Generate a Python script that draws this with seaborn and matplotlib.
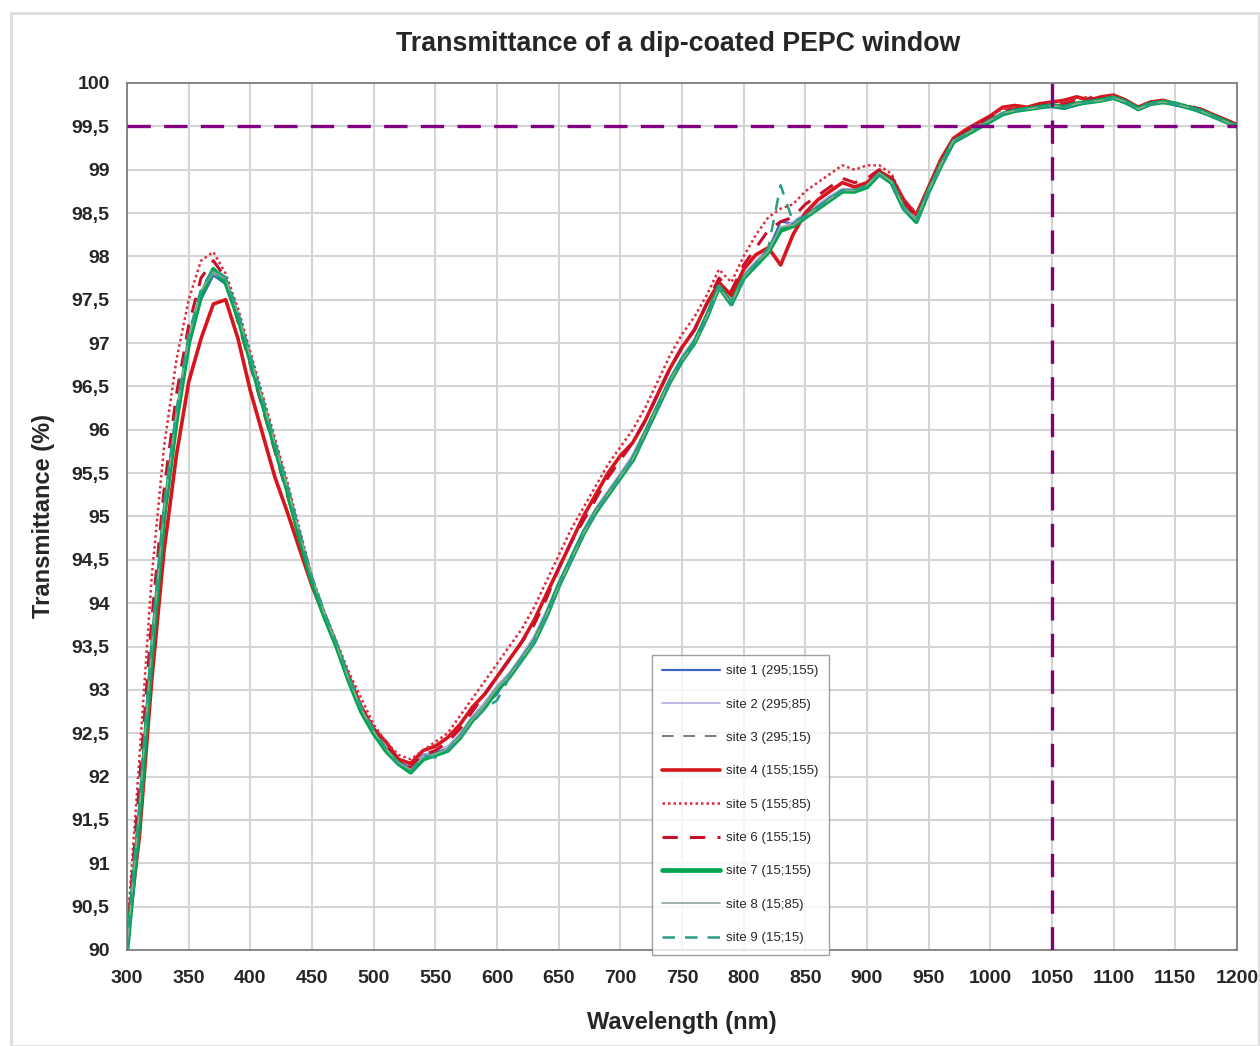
import numpy as np
import pandas as pd
import matplotlib
matplotlib.use("Agg")
import matplotlib.pyplot as plt
from matplotlib.ticker import MultipleLocator, FuncFormatter
from matplotlib.patches import Rectangle
import seaborn as sns

wavelength = list(range(300, 1201, 10))

site1 = [90.00, 91.60, 93.50, 95.05, 96.15, 97.00, 97.50, 97.78, 97.68, 97.30,
         96.82, 96.32, 95.82, 95.32, 94.78, 94.28, 93.88, 93.52, 93.12, 92.78,
         92.52, 92.32, 92.18, 92.10, 92.25, 92.28, 92.32, 92.48, 92.66, 92.82,
         92.95, 93.18, 93.38, 93.58, 93.88, 94.22, 94.52, 94.82, 95.06, 95.28,
         95.48, 95.68, 95.98, 96.28, 96.58, 96.82, 97.02, 97.32, 97.66, 97.48,
         97.78, 97.92, 98.08, 98.40, 98.38, 98.48, 98.58, 98.68, 98.76, 98.76,
         98.82, 98.94, 98.86, 98.56, 98.42, 98.76, 99.06, 99.32, 99.40, 99.49,
         99.57, 99.65, 99.68, 99.70, 99.72, 99.72, 99.70, 99.74, 99.78, 99.80,
         99.82, 99.76, 99.70, 99.76, 99.78, 99.74, 99.72, 99.66, 99.62, 99.56, 99.50]
site2 = [90.05, 91.70, 93.55, 95.10, 96.20, 97.05, 97.55, 97.80, 97.72, 97.34,
         96.85, 96.35, 95.85, 95.35, 94.80, 94.30, 93.90, 93.55, 93.15, 92.80,
         92.55, 92.34, 92.20, 92.12, 92.24, 92.30, 92.35, 92.50, 92.70, 92.86,
         93.05, 93.20, 93.40, 93.62, 93.92, 94.25, 94.55, 94.85, 95.10, 95.30,
         95.50, 95.72, 96.00, 96.30, 96.60, 96.85, 97.05, 97.35, 97.68, 97.52,
         97.80, 97.95, 98.10, 98.32, 98.40, 98.50, 98.60, 98.70, 98.78, 98.78,
         98.84, 98.96, 98.88, 98.58, 98.44, 98.78, 99.08, 99.34, 99.42, 99.50,
         99.58, 99.66, 99.68, 99.72, 99.74, 99.74, 99.72, 99.76, 99.78, 99.80,
         99.84, 99.78, 99.72, 99.76, 99.80, 99.76, 99.72, 99.68, 99.62, 99.56, 99.50]
site3 = [90.00, 91.55, 93.45, 95.00, 96.12, 97.02, 97.58, 97.84, 97.70, 97.28,
         96.78, 96.28, 95.78, 95.28, 94.74, 94.24, 93.84, 93.48, 93.08, 92.74,
         92.48, 92.28, 92.14, 92.06, 92.22, 92.24, 92.30, 92.46, 92.64, 92.80,
         93.00, 93.14, 93.34, 93.54, 93.84, 94.18, 94.48, 94.78, 95.04, 95.24,
         95.44, 95.64, 95.94, 96.24, 96.54, 96.78, 96.98, 97.28, 97.64, 97.44,
         97.74, 97.88, 98.04, 98.28, 98.34, 98.44, 98.54, 98.64, 98.74, 98.74,
         98.80, 98.94, 98.84, 98.54, 98.40, 98.74, 99.04, 99.30, 99.40, 99.48,
         99.56, 99.64, 99.68, 99.70, 99.72, 99.74, 99.72, 99.76, 99.78, 99.80,
         99.83, 99.78, 99.70, 99.76, 99.78, 99.76, 99.72, 99.68, 99.62, 99.56, 99.50]
site4 = [90.10, 91.30, 93.10, 94.60, 95.70, 96.55, 97.05, 97.45, 97.50, 97.05,
         96.45, 95.95, 95.45, 95.05, 94.62, 94.20, 93.85, 93.50, 93.15, 92.80,
         92.55, 92.40, 92.20, 92.15, 92.30, 92.35, 92.45, 92.60, 92.80, 92.95,
         93.15, 93.35, 93.55, 93.80, 94.10, 94.40, 94.70, 95.00, 95.25, 95.50,
         95.70, 95.85, 96.10, 96.40, 96.70, 96.95, 97.15, 97.45, 97.70, 97.55,
         97.85, 98.02, 98.10, 97.90, 98.25, 98.50, 98.65, 98.75, 98.85, 98.80,
         98.85, 98.98, 98.90, 98.65, 98.48, 98.80, 99.12, 99.36, 99.46, 99.54,
         99.62, 99.72, 99.74, 99.72, 99.76, 99.78, 99.80, 99.84, 99.80, 99.84,
         99.86, 99.80, 99.72, 99.78, 99.80, 99.76, 99.72, 99.70, 99.64, 99.58, 99.52]
site5 = [90.20, 92.20, 94.30, 95.80, 96.80, 97.50, 97.95, 98.05, 97.80, 97.40,
         96.90, 96.40, 95.90, 95.40, 94.85, 94.30, 93.90, 93.55, 93.20, 92.90,
         92.60, 92.40, 92.25, 92.20, 92.30, 92.40, 92.50, 92.70, 92.90, 93.10,
         93.30, 93.50, 93.70, 93.95, 94.25, 94.55, 94.85, 95.10, 95.35, 95.60,
         95.80, 96.00, 96.25, 96.55, 96.85, 97.10, 97.30, 97.55, 97.85, 97.70,
         98.00, 98.25, 98.45, 98.55, 98.60, 98.75, 98.85, 98.95, 99.05, 99.00,
         99.05, 99.05, 98.95, 98.65, 98.50, 98.80, 99.12, 99.36, 99.46, 99.55,
         99.62, 99.70, 99.72, 99.72, 99.74, 99.78, 99.78, 99.82, 99.84, 99.82,
         99.86, 99.80, 99.72, 99.78, 99.80, 99.76, 99.74, 99.70, 99.64, 99.58, 99.52]
site6 = [90.10, 91.90, 93.80, 95.30, 96.40, 97.20, 97.75, 97.95, 97.75, 97.25,
         96.75, 96.25, 95.75, 95.25, 94.75, 94.25, 93.85, 93.50, 93.10, 92.80,
         92.55, 92.35, 92.20, 92.10, 92.25, 92.30, 92.40, 92.55, 92.75, 92.95,
         93.15, 93.35, 93.55, 93.75, 94.05, 94.40, 94.70, 94.95, 95.20, 95.45,
         95.65, 95.85, 96.10, 96.40, 96.70, 96.95, 97.15, 97.45, 97.75, 97.60,
         97.90, 98.10, 98.30, 98.40, 98.45, 98.60, 98.70, 98.80, 98.90, 98.85,
         98.90, 99.00, 98.92, 98.62, 98.46, 98.78, 99.10, 99.34, 99.44, 99.53,
         99.61, 99.68, 99.70, 99.72, 99.74, 99.76, 99.76, 99.80, 99.82, 99.82,
         99.85, 99.80, 99.72, 99.78, 99.78, 99.76, 99.74, 99.70, 99.64, 99.58, 99.52]
site7 = [90.00, 91.50, 93.40, 95.00, 96.10, 97.00, 97.55, 97.85, 97.70, 97.30,
         96.80, 96.30, 95.80, 95.30, 94.75, 94.25, 93.85, 93.50, 93.10, 92.75,
         92.50, 92.30, 92.15, 92.05, 92.20, 92.25, 92.30, 92.45, 92.65, 92.80,
         93.00, 93.15, 93.35, 93.55, 93.85, 94.20, 94.50, 94.80, 95.05, 95.25,
         95.45, 95.65, 95.95, 96.25, 96.55, 96.80, 97.00, 97.30, 97.65, 97.45,
         97.75, 97.90, 98.05, 98.30, 98.35, 98.45, 98.55, 98.65, 98.75, 98.75,
         98.80, 98.95, 98.85, 98.55, 98.40, 98.75, 99.05, 99.32, 99.40, 99.48,
         99.56, 99.64, 99.68, 99.70, 99.72, 99.74, 99.72, 99.76, 99.78, 99.80,
         99.83, 99.78, 99.70, 99.76, 99.78, 99.76, 99.72, 99.68, 99.62, 99.56, 99.50]
site8 = [90.02, 91.62, 93.48, 95.06, 96.18, 97.06, 97.60, 97.82, 97.74, 97.34,
         96.84, 96.34, 95.84, 95.34, 94.80, 94.30, 93.88, 93.52, 93.12, 92.78,
         92.52, 92.32, 92.16, 92.08, 92.22, 92.26, 92.32, 92.46, 92.66, 92.82,
         93.02, 93.16, 93.36, 93.56, 93.86, 94.20, 94.50, 94.80, 95.06, 95.26,
         95.46, 95.66, 95.96, 96.26, 96.56, 96.80, 97.00, 97.30, 97.64, 97.46,
         97.76, 97.92, 98.06, 98.34, 98.36, 98.46, 98.56, 98.66, 98.76, 98.76,
         98.82, 98.96, 98.86, 98.56, 98.42, 98.76, 99.06, 99.33, 99.41, 99.49,
         99.57, 99.65, 99.68, 99.70, 99.72, 99.74, 99.72, 99.76, 99.78, 99.80,
         99.83, 99.78, 99.70, 99.76, 99.78, 99.76, 99.72, 99.68, 99.62, 99.56, 99.50]
site9 = [90.00, 91.65, 93.55, 95.12, 96.22, 97.10, 97.62, 97.86, 97.76, 97.36,
         96.86, 96.36, 95.86, 95.36, 94.82, 94.30, 93.90, 93.54, 93.14, 92.80,
         92.54, 92.32, 92.14, 92.06, 92.24, 92.22, 92.30, 92.44, 92.62, 92.78,
         92.88, 93.14, 93.34, 93.54, 93.84, 94.18, 94.48, 94.78, 95.04, 95.24,
         95.44, 95.64, 95.94, 96.24, 96.54, 96.80, 97.00, 97.30, 97.66, 97.44,
         97.74, 97.92, 98.10, 98.82, 98.40, 98.46, 98.56, 98.66, 98.76, 98.76,
         98.82, 98.94, 98.84, 98.54, 98.40, 98.74, 99.04, 99.32, 99.40, 99.48,
         99.56, 99.64, 99.68, 99.70, 99.72, 99.74, 99.72, 99.76, 99.78, 99.80,
         99.82, 99.78, 99.70, 99.76, 99.78, 99.76, 99.72, 99.68, 99.62, 99.56, 99.50]

site_labels = ["site 1 (295;155)", "site 2 (295;85)", "site 3 (295;15)",
               "site 4 (155;155)", "site 5 (155;85)", "site 6 (155;15)",
               "site 7 (15;155)", "site 8 (15;85)", "site 9 (15;15)"]
site_values = [site1, site2, site3, site4, site5, site6, site7, site8, site9]

threshold = 99.5
laser_wl = 1050

# one row per (site, wavelength)
df = pd.DataFrame({
    "Wavelength": wavelength * len(site_values),
    "Transmittance": np.concatenate(site_values),
    "Site": np.repeat(site_labels, len(wavelength)),
})

styles = {
    site_labels[0]: dict(color="#3a66c4", ls="-", lw=1.6),
    site_labels[1]: dict(color="#b9a9e3", ls="-", lw=1.2),
    site_labels[2]: dict(color="#7a7a7a", ls=(0, (6, 5)), lw=1.4),
    site_labels[3]: dict(color="#d8141c", ls="-", lw=2.6),
    site_labels[4]: dict(color="#e0283c", ls=(0, (1, 1.2)), lw=1.8),
    site_labels[5]: dict(color="#c8102a", ls=(0, (5, 4)), lw=2.2),
    site_labels[6]: dict(color="#00a651", ls="-", lw=3.4),
    site_labels[7]: dict(color="#8fa89a", ls="-", lw=1.2),
    site_labels[8]: dict(color="#2a9d86", ls=(0, (5, 4)), lw=1.8),
}

sns.set_style("white")
plt.rcParams["font.family"] = ["Liberation Sans", "DejaVu Sans"]

fig = plt.figure(figsize=(12.6, 10.46), dpi=100)
ax = fig.add_axes([0.1008, 0.0918, 0.8809, 0.8289])

for lab in site_labels:
    st = styles[lab]
    sns.lineplot(data=df[df["Site"] == lab], x="Wavelength", y="Transmittance",
                 color=st["color"], linestyle=st["ls"], linewidth=st["lw"],
                 label=lab, ax=ax, estimator=None, sort=False)

# spec limits
ax.axhline(threshold, color="#800080", ls=(0, (7, 4)), lw=2.4, zorder=5)
ax.axvline(laser_wl, color="#800080", ls=(0, (7, 4)), lw=2.4, zorder=5)

ax.set_xlim(300, 1200)
ax.set_ylim(90, 100)
ax.xaxis.set_major_locator(MultipleLocator(50))
ax.xaxis.set_minor_locator(MultipleLocator(10))
ax.yaxis.set_major_locator(MultipleLocator(0.5))
ax.yaxis.set_minor_locator(MultipleLocator(0.1))
ax.yaxis.set_major_formatter(FuncFormatter(lambda v, p: ("%g" % v).replace(".", ",")))
ax.grid(True, which="major", color="#d4d4d4", lw=1.5)
ax.tick_params(axis="both", which="major", labelsize=14, length=5, direction="inout", color="#666666")
ax.tick_params(axis="y", which="major", pad=10)
ax.tick_params(axis="x", which="major", pad=12)
ax.tick_params(axis="both", which="minor", length=3, direction="in", color="#888888")
for lbl in ax.get_xticklabels() + ax.get_yticklabels():
    lbl.set_fontweight("bold")
for s in ax.spines.values():
    s.set_color("#777777")
    s.set_linewidth(1.2)

ax.set_xlabel("Wavelength (nm)", fontsize=17, fontweight="bold", labelpad=17)
ax.set_ylabel("Transmittance (%)", fontsize=17, fontweight="bold", labelpad=12)
fig.text(0.538, 0.958, "Transmittance of a dip-coated PEPC window",
         ha="center", va="center", fontsize=19.3, fontweight="bold")

leg = ax.legend(loc="upper left", bbox_to_anchor=(0.512, 0.3805),
                bbox_transform=fig.transFigure, fontsize=9.5, frameon=True,
                fancybox=False, edgecolor="#888888", handlelength=4.4,
                labelspacing=1.6, borderpad=0.8, handletextpad=0.4)
leg.get_frame().set_linewidth(1.0)
leg.set_zorder(10)

fig.patches.append(Rectangle((0.009, 0.0), 0.99, 0.988, transform=fig.transFigure,
                             fill=False, edgecolor="#dddddd", lw=2))

fig.savefig("out.png", dpi=100)
